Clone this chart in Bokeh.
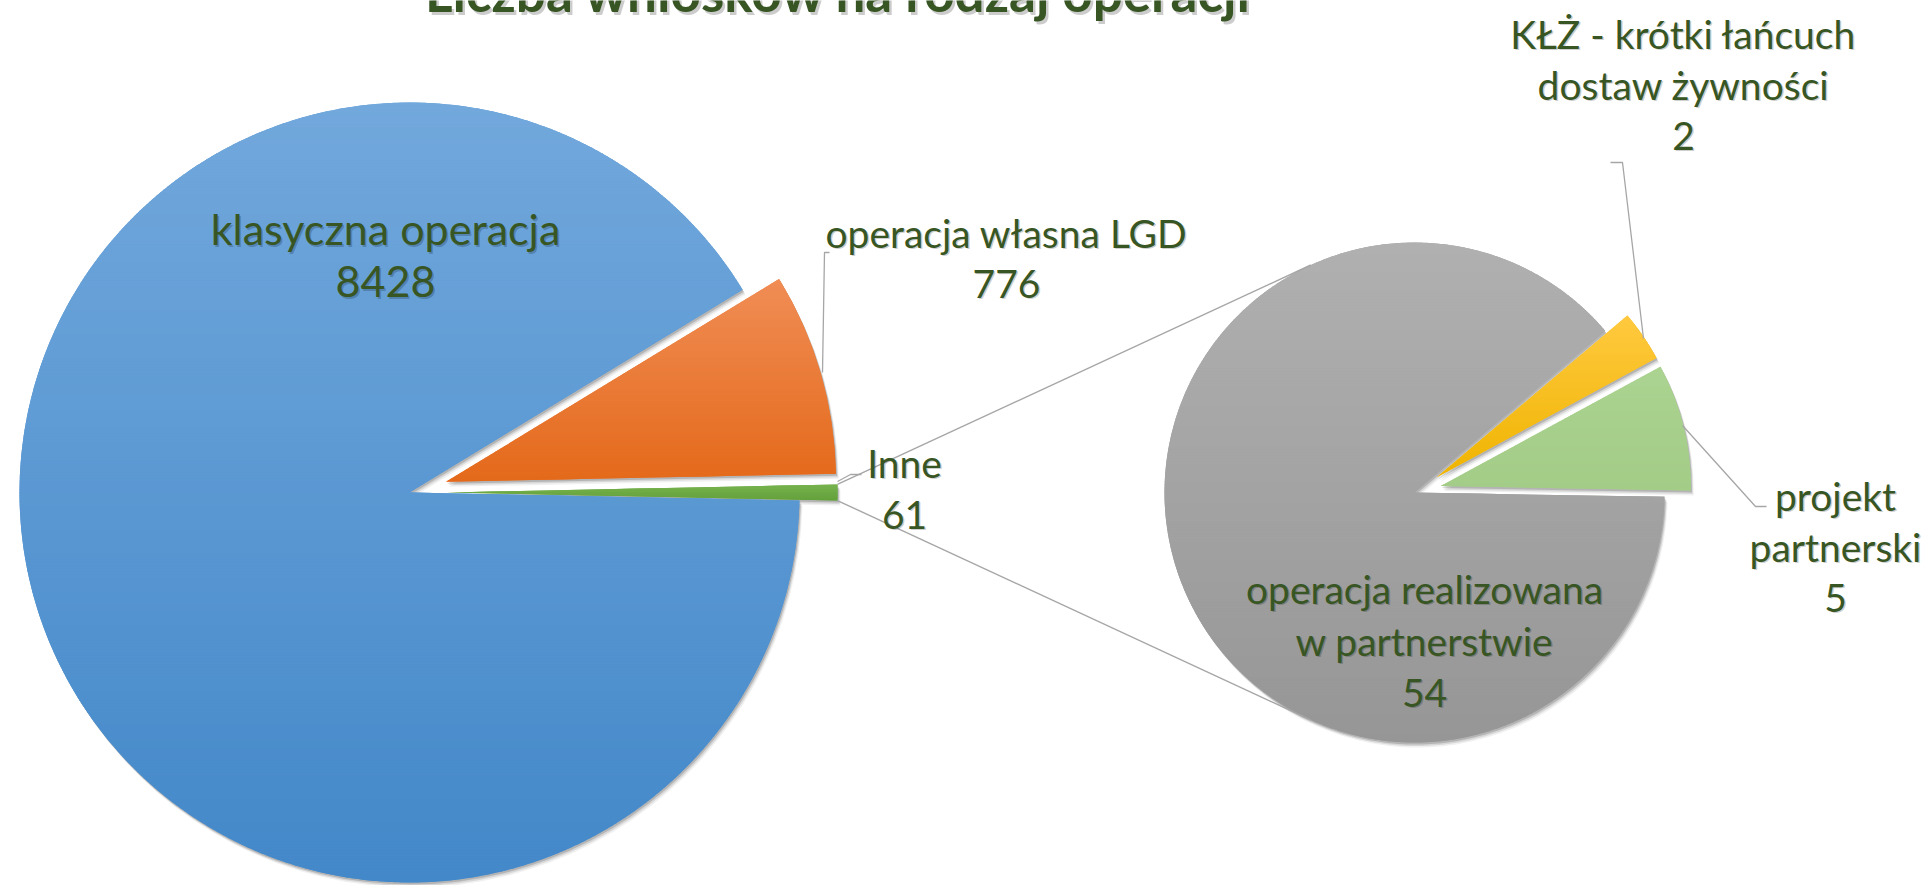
import math
from bokeh.plotting import figure
from bokeh.models import Range1d
from bokeh.embed import file_html
from bokeh.resources import INLINE
from bokeh.core.properties import value

# ---------------- data ----------------
title_text = "Liczba wniosków na rodzaj operacji"
main_categories = ["klasyczna operacja", "operacja własna LGD", "Inne"]
main_values = [8428, 776, 61]
sub_categories = ["operacja realizowana\nw partnerstwie", "KŁŻ - krótki łańcuch\ndostaw żywności", "projekt\npartnerski"]
sub_values = [54, 2, 5]

# (top colour, bottom colour) of each slice's vertical gradient
main_colors = [("#72A8DC", "#4388C9"), ("#F08D55", "#E4691A"), ("#76B24D", "#62A03A")]
sub_colors = [("#B0B0B0", "#969696"), ("#FFC93F", "#EFB400"), ("#ABD391", "#A3CC87")]

# ---------------- layout ----------------
W, H = 1931, 885
def X(rx):
    return rx
def Y(ry):
    return H - ry

p = figure(width=W, height=H, x_range=Range1d(0, W), y_range=Range1d(0, H),
           output_backend="svg", toolbar_location=None, min_border=0, title=None)
p.axis.visible = False
p.grid.visible = False
p.outline_line_color = None
p.background_fill_color = "white"
p.border_fill_color = "white"
p.styles = {"position": "absolute", "top": "0px", "left": "0px"}

FONT = value("Lato")
TXT = "#375623"
LINE = "#A6A6A6"

# ---------- main pie geometry ----------
c1x, c1y, R1, ex1 = X(409), Y(492), 390, 38
tot1 = sum(main_values)
d1 = [v / tot1 * 360 for v in main_values]
inne_s, inne_e = -d1[2] / 2, d1[2] / 2
own_s, own_e = inne_e, inne_e + d1[1]
cls_s, cls_e = own_e, 360 + inne_s
main_angles = [(cls_s, cls_e), (own_s, own_e), (inne_s, inne_e)]
main_explode = [0, ex1, ex1]

# ---------- sub pie geometry ----------
c2x, c2y, R2, ex2 = X(1414), Y(492), 250, 27
tot2 = sum(sub_values)
d2 = [v / tot2 * 360 for v in sub_values]
start2 = -1.0
prj_s, prj_e = start2, start2 + d2[2]
klz_s, klz_e = prj_e, prj_e + d2[1]
par_s, par_e = klz_e, start2 + 360
sub_angles = [(par_s, par_e), (klz_s, klz_e), (prj_s, prj_e)]
sub_explode = [0, ex2, ex2]


def slice_center(cx, cy, a0, a1, ex):
    m = math.radians((a0 + a1) / 2)
    return cx + ex * math.cos(m), cy + ex * math.sin(m)


def slice_polygon(sx, sy, R, a0, a1):
    n = max(12, int((a1 - a0) * 3))
    pts = [(sx, sy)]
    for i in range(n + 1):
        a = math.radians(a0 + (a1 - a0) * i / n)
        pts.append((sx + R * math.cos(a), sy + R * math.sin(a)))
    return pts


def clip_half(poly, keep, yv):
    out = []
    for i in range(len(poly)):
        cur, prev = poly[i], poly[i - 1]
        cin, pin = keep(cur), keep(prev)
        if cin != pin:
            t = (yv - prev[1]) / (cur[1] - prev[1])
            out.append((prev[0] + t * (cur[0] - prev[0]), yv))
        if cin:
            out.append(cur)
    return out


def mix(c0, c1, t):
    a = [int(c0[i:i + 2], 16) for i in (1, 3, 5)]
    b = [int(c1[i:i + 2], 16) for i in (1, 3, 5)]
    return "#%02x%02x%02x" % tuple(round(a[k] + (b[k] - a[k]) * t) for k in range(3))


def gradient_bands(poly, ctop, cbot, step=3.0):
    ys = [q[1] for q in poly]
    ymin, ymax = min(ys), max(ys)
    bx, by, bc = [], [], []
    y = ymin
    while y < ymax:
        lo, hi = y - 0.7, min(y + step, ymax)
        part = clip_half(poly, lambda q: q[1] >= lo, lo)
        if part:
            part = clip_half(part, lambda q: q[1] <= hi, hi)
        if len(part) >= 3:
            t = (ymax - (y + step / 2)) / (ymax - ymin)
            bx.append([q[0] for q in part])
            by.append([q[1] for q in part])
            bc.append(mix(ctop, cbot, max(0.0, min(1.0, t))))
        y += step
    return bx, by, bc


def draw_pie(cx, cy, R, angles, explode, colors):
    centers = [slice_center(cx, cy, a0, a1, e) for (a0, a1), e in zip(angles, explode)]
    for (sx, sy), (a0, a1) in zip(centers, angles):
        for off, al in ((5, 0.06), (3.5, 0.10), (2, 0.16)):
            p.wedge(x=sx + off * 0.6, y=sy - off, radius=R,
                    start_angle=math.radians(a0), end_angle=math.radians(a1),
                    fill_color="black", fill_alpha=al, line_color=None)
    for (sx, sy), (a0, a1), (ct, cb) in zip(centers, angles, colors):
        p.wedge(x=sx, y=sy, radius=R,
                start_angle=math.radians(a0), end_angle=math.radians(a1),
                fill_color=mix(ct, cb, 0.5), line_color=None)
        bx, by, bc = gradient_bands(slice_polygon(sx, sy, R, a0, a1), ct, cb)
        p.patches(xs=bx, ys=by, fill_color=bc, line_color=None)
    return centers


mc = draw_pie(c1x, c1y, R1, main_angles, main_explode, main_colors)
sc = draw_pie(c2x, c2y, R2, sub_angles, sub_explode, sub_colors)

# ---------- connector lines between pies ----------
gx, gy = mc[2]
up0 = (gx + R1 * math.cos(math.radians(inne_e)), gy + R1 * math.sin(math.radians(inne_e)))
lo0 = (gx + R1 * math.cos(math.radians(inne_s)), gy + R1 * math.sin(math.radians(inne_s)))
up1 = (c2x + R2 * math.cos(math.radians(114.5)), c2y + R2 * math.sin(math.radians(114.5)))
lo1 = (c2x + R2 * math.cos(math.radians(245.5)), c2y + R2 * math.sin(math.radians(245.5)))
p.segment(x0=[up0[0], lo0[0]], y0=[up0[1], lo0[1]], x1=[up1[0], lo1[0]], y1=[up1[1], lo1[1]],
          line_color=LINE, line_width=1.4)

# ---------- leader lines ----------
p.line([X(822), X(824), X(829)], [Y(372), Y(252), Y(252)], line_color=LINE, line_width=1.3)
p.line([X(837), X(850), X(861)], [Y(481), Y(474), Y(474)], line_color=LINE, line_width=1.3)
p.line([X(1643), X(1622), X(1610)], [Y(338), Y(162), Y(162)], line_color=LINE, line_width=1.3)
p.line([X(1682), X(1755), X(1766)], [Y(425), Y(506), Y(506)], line_color=LINE, line_width=1.3)


# ---------- labels ----------
def label(text_lines, rx, ry, spacing=52, size="39px", bold=False, sh=1.5, lift=18):
    xs, ys = [], []
    for i, _ in enumerate(text_lines):
        xs.append(X(rx))
        ys.append(Y(ry + i * spacing - lift))
    style = "bold" if bold else "normal"
    p.text(x=[v + sh for v in xs], y=[v - sh for v in ys], text=text_lines,
           text_font=FONT, text_font_size=size, text_font_style=style,
           text_color="black", text_alpha=0.2, text_align="center", text_baseline="alphabetic")
    p.text(x=xs, y=ys, text=text_lines,
           text_font=FONT, text_font_size=size, text_font_style=style,
           text_color=TXT, text_align="center", text_baseline="alphabetic")


label([main_categories[0], str(main_values[0])], 385, 247, spacing=53, size="43px", lift=19)
label([main_categories[1], str(main_values[1])], 1006, 250, spacing=51)
label([main_categories[2], str(main_values[2])], 904, 480, spacing=52)
label(sub_categories[1].split("\n") + [str(sub_values[1])], 1683, 51, spacing=51)
label(sub_categories[2].split("\n") + [str(sub_values[2])], 1835, 513, spacing=51)
label(sub_categories[0].split("\n") + [str(sub_values[0])], 1424, 606, spacing=52)

label([title_text], 838, 10, size="53px", bold=True, sh=2.5, lift=19)

open("out.html", "w").write(file_html(p, INLINE))
